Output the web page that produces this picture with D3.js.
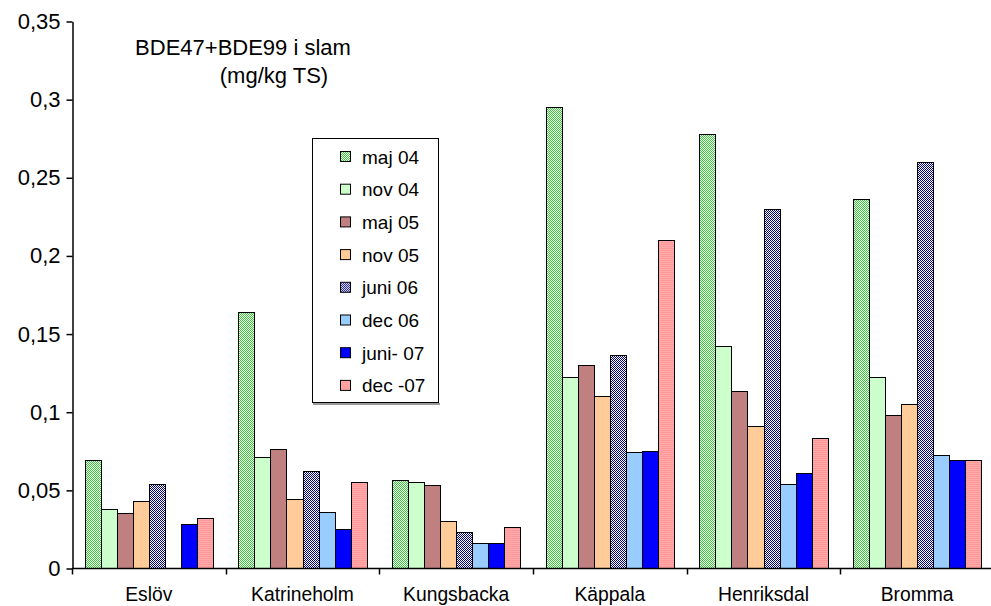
<!DOCTYPE html>
<html><head><meta charset="utf-8">
<script src="https://cdn.jsdelivr.net/npm/d3@7"></script>
<style>body{margin:0;background:#fff}svg{display:block;font-family:"Liberation Sans",Arial,sans-serif}</style>
</head><body><svg id="c" width="991" height="606"></svg>
<script>
const categories = ["Eslöv","Katrineholm","Kungsbacka","Käppala","Henriksdal","Bromma"];
const seriesNames = ["maj 04","nov 04","maj 05","nov 05","juni 06","dec 06","juni- 07","dec -07"];
const maj04  = [0.069, 0.164, 0.056, 0.295, 0.278, 0.236];
const nov04  = [0.038, 0.071, 0.055, 0.122, 0.142, 0.122];
const maj05  = [0.035, 0.076, 0.053, 0.130, 0.113, 0.098];
const nov05  = [0.043, 0.044, 0.030, 0.110, 0.091, 0.105];
const juni06 = [0.054, 0.062, 0.023, 0.136, 0.230, 0.260];
const dec06  = [null,  0.036, 0.016, 0.074, 0.054, 0.072];
const juni07 = [0.028, 0.025, 0.016, 0.075, 0.061, 0.069];
const dec07  = [0.032, 0.055, 0.026, 0.210, 0.083, 0.069];
const yTicks = [0, 0.05, 0.1, 0.15, 0.2, 0.25, 0.3, 0.35];
const yTickLabels = ["0","0,05","0,1","0,15","0,2","0,25","0,3","0,35"];
const titleLines = ["BDE47+BDE99 i slam","(mg/kg TS)"];

const seriesValues = [maj04, nov04, maj05, nov05, juni06, dec06, juni07, dec07];
const fills = ["url(#pGreen)","#CCFFCC","#C08080","#FFCC99","url(#pNavy)","#99CCFF","#0000FF","url(#pPink)"];

const svg = d3.select("#c");
const defs = svg.append("defs");
function checker(id, c1, c2){
  const p = defs.append("pattern").attr("id", id).attr("width", 2).attr("height", 2)
    .attr("patternUnits","userSpaceOnUse");
  p.append("rect").attr("width",2).attr("height",2).attr("fill",c2).attr("shape-rendering","crispEdges");
  p.append("rect").attr("width",1).attr("height",1).attr("fill",c1).attr("shape-rendering","crispEdges");
  p.append("rect").attr("x",1).attr("y",1).attr("width",1).attr("height",1).attr("fill",c1).attr("shape-rendering","crispEdges");
}
checker("pGreen", "#33CC33", "#FFFFFF");
checker("pNavy", "#000080", "#FFFFFF");
{
  const p = defs.append("pattern").attr("id","pPink").attr("width",2).attr("height",2).attr("patternUnits","userSpaceOnUse");
  p.append("rect").attr("width",2).attr("height",2).attr("fill","#FF9999");
  p.append("rect").attr("y",1).attr("width",2).attr("height",1).attr("fill","#FFAAAA");
}

const x0 = d3.scaleBand().domain(categories).range([72, 994]).paddingInner(0).paddingOuter(0);
const x1 = d3.scaleBand().domain(seriesNames).range([0, x0.bandwidth()]).paddingInner(0).paddingOuter(0.8);
const y = d3.scaleLinear().domain([0, 0.35]).range([568, 21]);

// bars
const barData = [];
categories.forEach((c, ci) => seriesNames.forEach((s, si) => {
  const v = seriesValues[si][ci];
  if (v != null) barData.push({c, s, si, v});
}));
svg.append("g").selectAll("rect").data(barData).join("rect")
  .attr("x", d => Math.round(x0(d.c) + x1(d.s)) + 0.5)
  .attr("y", d => Math.round(y(d.v)) + 0.5)
  .attr("width", d => Math.round(x0(d.c) + x1(d.s) + x1.bandwidth()) - Math.round(x0(d.c) + x1(d.s)))
  .attr("height", d => 568 - Math.round(y(d.v)))
  .attr("fill", d => fills[d.si])
  .attr("stroke", "#000").attr("stroke-width", 1);

// y axis
const yAxis = d3.axisLeft(y).tickValues(yTicks).tickFormat((d,i) => yTickLabels[i]).tickSize(6).tickSizeOuter(0);
const ya = svg.append("g").attr("transform","translate(72.5,0.5)").call(yAxis);
ya.select(".domain").attr("stroke","#000").attr("stroke-width",1.5);
ya.selectAll(".tick line").attr("stroke","#000").attr("stroke-width",1.5);
ya.selectAll(".tick text").attr("font-size",22).attr("fill","#000").attr("x",-12)
  .attr("font-family",'"Liberation Sans",Arial,sans-serif');

// x axis
const xa = svg.append("g").attr("transform","translate(0,568.5)");
xa.append("line").attr("x1",72).attr("x2",994).attr("stroke","#000").attr("stroke-width",1.5);
xa.selectAll("line.t").data(categories).join("line").attr("class","t")
  .attr("x1", d => Math.round(x0(d)) + 0.5).attr("x2", d => Math.round(x0(d)) + 0.5).attr("y1",0).attr("y2",6)
  .attr("stroke","#000").attr("stroke-width",1.5);
xa.selectAll("text").data(categories).join("text")
  .attr("x", d => x0(d) + x0.bandwidth()/2).attr("y", 32)
  .attr("text-anchor","middle").attr("font-size",19.3).attr("fill","#000").text(d => d);

// title
svg.append("text").attr("x",243).attr("y",55).attr("text-anchor","middle").attr("font-size",22).text(titleLines[0]);
svg.append("text").attr("x",274).attr("y",83).attr("text-anchor","middle").attr("font-size",22).text(titleLines[1]);

// legend
const lg = svg.append("g");
lg.append("rect").attr("x",312.5).attr("y",138.5).attr("width",126).attr("height",264).attr("fill","#fff").attr("stroke","#000");
lg.append("line").attr("x1",313).attr("x2",440).attr("y1",404).attr("y2",404).attr("stroke","#999").attr("stroke-width",2);
const items = lg.selectAll("g.item").data(seriesNames).join("g").attr("class","item")
  .attr("transform",(d,i) => `translate(0,${157 + i*32.7})`);
items.append("rect").attr("x",340.5).attr("y",-5.5).attr("width",10).attr("height",10)
  .attr("fill",(d,i)=>fills[i]).attr("stroke","#000");
items.append("text").attr("x",362).attr("y",6.5).attr("font-size",19).attr("fill","#000").text(d=>d);
</script></body></html>
